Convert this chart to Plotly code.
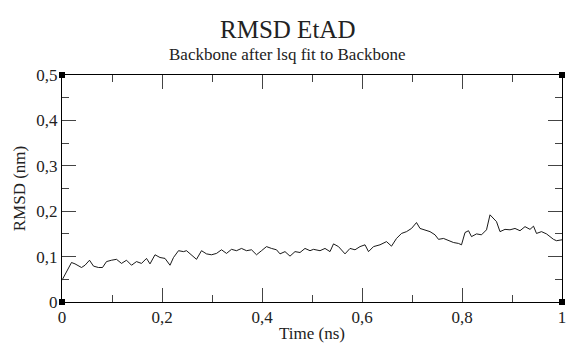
import plotly.graph_objects as go

time_ns = [
    0.000, 0.005, 0.012, 0.019, 0.026, 0.032, 0.039, 0.046, 0.055, 0.063,
    0.073, 0.081, 0.089, 0.099, 0.109, 0.119, 0.129, 0.139, 0.149, 0.159,
    0.169, 0.176, 0.186, 0.196, 0.206, 0.216, 0.223, 0.233, 0.243, 0.249,
    0.259, 0.269, 0.279, 0.289, 0.299, 0.309, 0.319, 0.329, 0.339, 0.349,
    0.359, 0.369, 0.379, 0.389, 0.399, 0.409, 0.419, 0.429, 0.436, 0.446,
    0.456, 0.466, 0.476, 0.486, 0.496, 0.503, 0.516, 0.526, 0.536, 0.543,
    0.553, 0.566, 0.576, 0.586, 0.596, 0.606, 0.613, 0.623, 0.636, 0.649,
    0.659, 0.669, 0.679, 0.689, 0.699, 0.709, 0.716, 0.726, 0.736, 0.746,
    0.753, 0.763, 0.773, 0.783, 0.793, 0.799, 0.806, 0.813, 0.819, 0.829,
    0.839, 0.849, 0.856, 0.863, 0.869, 0.876, 0.886, 0.896, 0.906, 0.916,
    0.926, 0.936, 0.943, 0.949, 0.959, 0.969, 0.976, 0.983, 0.989, 1.000,
]
rmsd_nm = [
    0.048, 0.059, 0.074, 0.087, 0.084, 0.081, 0.076, 0.081, 0.092, 0.079,
    0.076, 0.076, 0.089, 0.092, 0.094, 0.085, 0.092, 0.081, 0.089, 0.085,
    0.096, 0.084, 0.104, 0.098, 0.096, 0.081, 0.098, 0.113, 0.111, 0.113,
    0.104, 0.094, 0.113, 0.106, 0.104, 0.107, 0.115, 0.107, 0.116, 0.113,
    0.118, 0.113, 0.115, 0.104, 0.113, 0.122, 0.118, 0.115, 0.106, 0.111,
    0.101, 0.111, 0.109, 0.118, 0.113, 0.116, 0.113, 0.118, 0.111, 0.128,
    0.122, 0.106, 0.118, 0.115, 0.122, 0.126, 0.111, 0.122, 0.126, 0.133,
    0.123, 0.140, 0.151, 0.155, 0.162, 0.175, 0.162, 0.159, 0.155, 0.148,
    0.138, 0.140, 0.135, 0.131, 0.129, 0.126, 0.153, 0.157, 0.144, 0.150,
    0.148, 0.159, 0.192, 0.184, 0.177, 0.155, 0.160, 0.159, 0.162, 0.157,
    0.166, 0.160, 0.167, 0.151, 0.155, 0.150, 0.144, 0.138, 0.135, 0.137,
]

x_range = [0, 1]
y_range = [0, 0.5]

title_text = "RMSD EtAD"
subtitle_text = "Backbone after lsq fit to Backbone"
x_title = "Time (ns)"
y_title = "RMSD (nm)"

FONT = "Liberation Serif"

fig = go.Figure()
fig.add_trace(go.Scatter(
    x=time_ns, y=rmsd_nm, mode="lines",
    line=dict(color="black", width=0.9),
    showlegend=False, hoverinfo="skip",
))
# corner markers (xmgrace-style)
fig.add_trace(go.Scatter(
    x=[x_range[0], x_range[0], x_range[1], x_range[1]],
    y=[y_range[0], y_range[1], y_range[0], y_range[1]],
    mode="markers", marker=dict(symbol="square", size=6, color="black"),
    cliponaxis=False, showlegend=False, hoverinfo="skip",
))

axis_common = dict(
    showline=True, linecolor="black", linewidth=1, mirror="ticks",
    ticks="inside", ticklen=14, tickwidth=1, tickcolor="#444",
    showgrid=False, zeroline=False, automargin=False,
    ticklabeloverflow="allow",
    tickfont=dict(family=FONT, size=17, color="#222"),
)

fig.update_xaxes(
    range=x_range, dtick=0.2, tick0=0,
    minor=dict(dtick=0.1, ticklen=7, ticks="inside", tickcolor="#444", showgrid=False),
    title=dict(text=x_title, font=dict(family=FONT, size=17, color="#222"), standoff=0),
    **axis_common,
)
fig.update_yaxes(
    range=y_range, dtick=0.1, tick0=0,
    minor=dict(dtick=0.05, ticklen=7, ticks="inside", tickcolor="#444", showgrid=False),
    title=dict(text=y_title, font=dict(family=FONT, size=17, color="#222"), standoff=6),
    **axis_common,
)

fig.add_annotation(text=title_text, xref="paper", yref="paper", x=0.45, y=1.20,
                   showarrow=False, font=dict(family=FONT, size=25, color="#222"),
                   xanchor="center", yanchor="middle")
fig.add_annotation(text=subtitle_text, xref="paper", yref="paper", x=0.45, y=1.09,
                   showarrow=False, font=dict(family=FONT, size=17, color="#222"),
                   xanchor="center", yanchor="middle")

fig.update_layout(
    width=566, height=343,
    margin=dict(l=62, r=4, t=75, b=41),
    paper_bgcolor="white", plot_bgcolor="white",
    separators=",.",
    font=dict(family=FONT, color="#222"),
)

fig.write_html(
    "out.html",
    config={"displayModeBar": False},
    post_script="document.body.style.margin='0';document.body.style.overflow='hidden';",
)
